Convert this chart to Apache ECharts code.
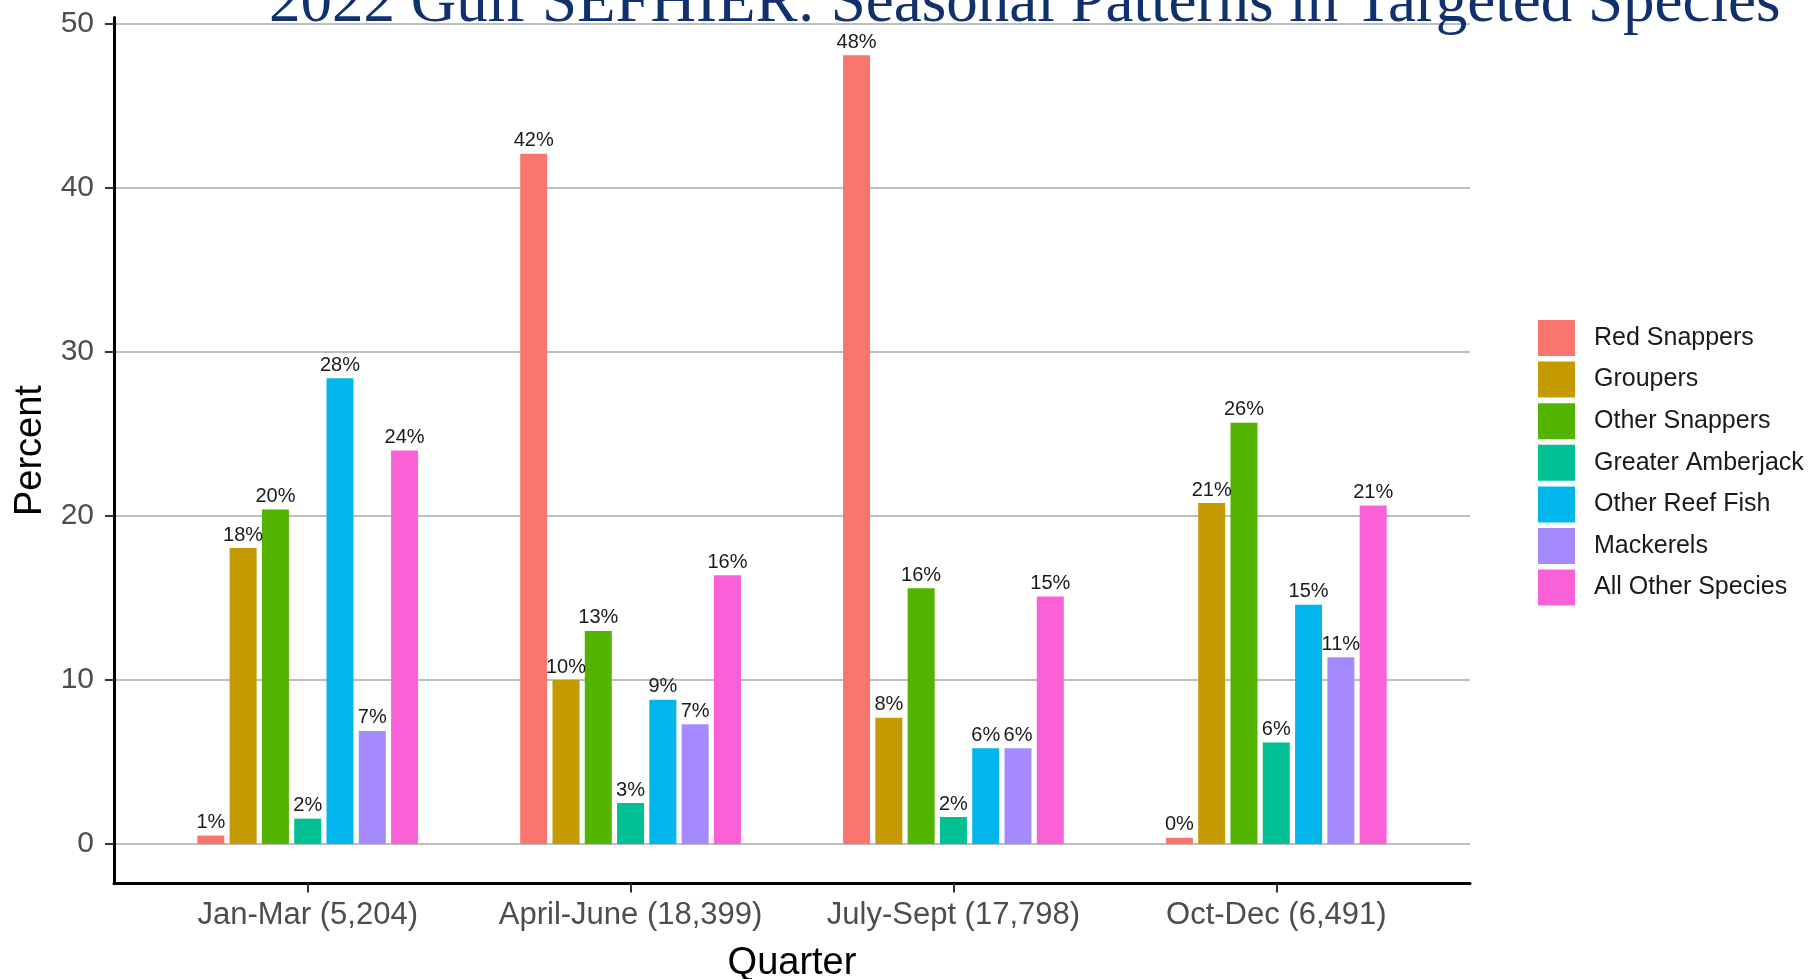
<!DOCTYPE html>
<html>
<head>
<meta charset="utf-8">
<title>2022 Gulf SEFHIER: Seasonal Patterns in Targeted Species</title>
<script src="https://cdn.jsdelivr.net/npm/echarts@6/dist/echarts.min.js"></script>
<style>
  html, body { margin: 0; padding: 0; background: #fff; }
  #chart { width: 1813px; height: 979px; }
</style>
</head>
<body>
<div id="chart"></div>
<script>
// quarters (x axis)
const quarters = ["Jan-Mar (5,204)", "April-June (18,399)", "July-Sept (17,798)", "Oct-Dec (6,491)"];

// percent of trips by targeted species, one value per quarter
const redSnappers = [0.52, 42.1, 48.1, 0.38];
const groupers = [18.05, 10.0, 7.7, 20.8];
const otherSnappers = [20.4, 13.0, 15.6, 25.7];
const greaterAmberjack = [1.55, 2.5, 1.65, 6.2];
const otherReefFish = [28.4, 8.8, 5.85, 14.6];
const mackerels = [6.9, 7.3, 5.85, 11.4];
const allOtherSpecies = [24.0, 16.4, 15.1, 20.65];

const speciesNames = ["Red Snappers", "Groupers", "Other Snappers", "Greater Amberjack", "Other Reef Fish", "Mackerels", "All Other Species"];
const speciesData = [redSnappers, groupers, otherSnappers, greaterAmberjack, otherReefFish, mackerels, allOtherSpecies];
const colors = ["#F8766D", "#C49A00", "#53B400", "#00C094", "#00B6EB", "#A58AFF", "#FB61D7"];

const yTicks = [0, 10, 20, 30, 40, 50];

const font = "Liberation Sans, Arial, sans-serif";

const chart = echarts.init(document.getElementById("chart"));

chart.setOption({
  backgroundColor: "#fff",
  color: colors,
  animation: false,
  title: {
    text: "2022 Gulf SEFHIER: Seasonal Patterns in Targeted Species",
    left: 264,
    top: -32,
    textStyle: {
      fontFamily: "Liberation Serif, Times New Roman, serif",
      fontWeight: "normal",
      fontSize: 63,
      color: "#10306E",
    },
  },
  legend: {
    orient: "vertical",
    left: 1533,
    top: 315,
    icon: "rect",
    itemWidth: 37,
    itemHeight: 36,
    itemGap: 5.6,
    data: speciesNames,
    textStyle: {
      fontFamily: font,
      fontSize: 25,
      color: "#1a1a1a",
      padding: [0, 0, 0, 14],
    },
  },
  grid: {
    left: 114,
    top: 17.6,
    width: 1356,
    height: 866,
    containLabel: false,
    outerBoundsMode: "none",
  },
  xAxis: {
    type: "value",
    min: -0.6,
    max: 3.6,
    name: "Quarter",
    nameLocation: "middle",
    nameGap: 61,
    nameTextStyle: { fontFamily: font, fontSize: 38, color: "#000" },
    axisLine: { show: true, onZero: false, lineStyle: { color: "#000", width: 3 } },
    axisTick: { show: true, length: 9, customValues: [0, 1, 2, 3], lineStyle: { color: "#333", width: 2 } },
    axisLabel: {
      customValues: [0, 1, 2, 3],
      margin: 16,
      fontFamily: font,
      fontSize: 31,
      color: "#4D4D4D",
      formatter: function (v) {
        return quarters[Math.round(v)];
      },
    },
    splitLine: { show: false },
  },
  yAxis: {
    type: "value",
    min: -2.41,
    max: 50.4,
    name: "Percent",
    nameLocation: "middle",
    nameGap: 63,
    nameTextStyle: { fontFamily: font, fontSize: 38, color: "#000" },
    axisLine: { show: true, onZero: false, lineStyle: { color: "#000", width: 3 } },
    axisTick: { show: true, length: 9, customValues: yTicks, lineStyle: { color: "#333", width: 2 } },
    axisLabel: {
      customValues: yTicks,
      margin: 20,
      fontFamily: font,
      fontSize: 30,
      color: "#4D4D4D",
    },
    splitLine: { show: true, lineStyle: { color: "#BEBEBE", width: 2 } },
  },
  series: speciesData.map(function (vals, k) {
    return {
      name: speciesNames[k],
      type: "bar",
      barWidth: 27,
      barGap: "19.6%",
      data: vals.map(function (v, i) {
        return [i, v];
      }),
      itemStyle: { color: colors[k] },
      label: {
        show: true,
        position: "top",
        distance: 3,
        fontFamily: font,
        fontSize: 20,
        color: "#1a1a1a",
        formatter: function (p) {
          return Math.round(p.value[1]) + "%";
        },
      },
    };
  }),
});
</script>
</body>
</html>
